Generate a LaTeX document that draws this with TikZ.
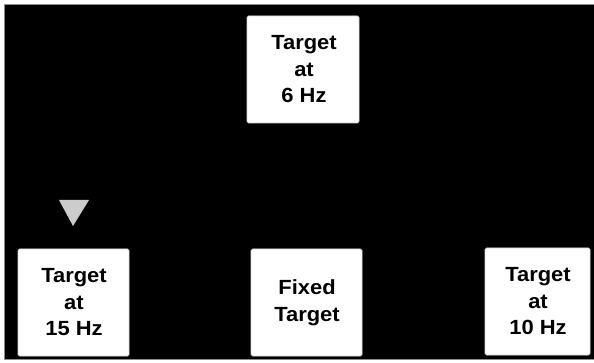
\documentclass[tikz,border=0pt]{standalone}
\usepackage{fontspec}
\setmainfont[FakeStretch=1.07]{Liberation Sans}
\begin{document}
\begin{tikzpicture}[x=1pt,y=-1pt,
  card/.style={fill=white,draw=black!15,line width=0.6pt,rounded corners=1.5pt},
  cardtext/.style={align=center,font=\fontsize{20.5}{26.5}\selectfont\bfseries,text=black,inner sep=0pt}]
\useasboundingbox (0,0) rectangle (594,363);
\fill[white] (0,0) rectangle (594,363);
\draw[fill=black,draw=black!45,line width=0.8pt] (4,4) rectangle (594,359);
% boxes
\draw[card] (247,16) rectangle (359,123);
\draw[card] (18,249) rectangle (129,356);
\draw[card] (251,249) rectangle (362,356);
\draw[card] (485,248) rectangle (590,355);
\node[cardtext] (t6) at (304,69.5) {Target\\at\\6 Hz};
\node[cardtext] (t15) at (74,302.5) {Target\\at\\15 Hz};
\node[cardtext] (fix) at (307,302.5) {Fixed\\Target};
\node[cardtext] (t10) at (538,301.5) {Target\\at\\10 Hz};
% cue triangle
\fill[black!20] (59,200) -- (89,200) -- (73,226) -- cycle;
\end{tikzpicture}
\end{document}
